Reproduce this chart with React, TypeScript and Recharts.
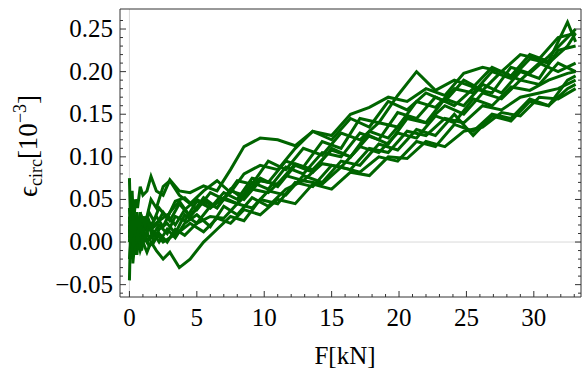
import { LineChart, Line, XAxis, YAxis, ReferenceLine } from 'recharts'

// force grids (kN) used by the strain series
const forceA = [0, 0.1, 0.2, 0.3, 0.45, 0.6, 0.8, 1.0, 1.3, 1.6, 2.0, 2.5, 3.0, 3.7, 4.5, 5.5, 6.5, 7.5, 8.5, 9.7, 11, 12.3, 13.6, 15, 16.4, 17.8, 19.2, 20.6, 22, 23.4, 24.8, 26.2, 27.6, 29, 30.4, 31.8, 33.1]
const forceB = [0, 0.15, 0.25, 0.4, 0.55, 0.7, 0.9, 1.15, 1.45, 1.8, 2.2, 2.8, 3.4, 4.1, 5.0, 6.0, 7.0, 8.0, 9.1, 10.3, 11.6, 12.9, 14.3, 15.7, 17.1, 18.5, 19.9, 21.3, 22.7, 24.1, 25.5, 26.9, 28.3, 29.7, 31.1, 32.5, 33.1]

// circumferential strain [10^-3]
const strainA1 = [0.075, 0.01, 0.06, 0.02, 0.05, 0.04, 0.065, 0.055, 0.06, 0.077, 0.06, 0.055, 0.073, 0.06, 0.058, 0.066, 0.06, 0.085, 0.112, 0.122, 0.12, 0.113, 0.13, 0.125, 0.15, 0.158, 0.17, 0.165, 0.18, 0.172, 0.198, 0.205, 0.2, 0.22, 0.215, 0.24, 0.245]
const strainA2 = [-0.045, 0.03, -0.02, 0.01, -0.015, 0.005, -0.01, 0.0, -0.012, 0.0, -0.01, -0.02, -0.012, -0.03, -0.02, 0.0, 0.015, 0.03, 0.025, 0.05, 0.045, 0.07, 0.065, 0.09, 0.085, 0.11, 0.105, 0.13, 0.125, 0.145, 0.14, 0.16, 0.155, 0.17, 0.175, 0.18, 0.19]
const strainA3 = [0.03, -0.01, 0.04, 0.0, 0.03, 0.01, 0.035, 0.02, 0.03, 0.05, 0.04, 0.065, 0.072, 0.055, 0.045, 0.06, 0.072, 0.058, 0.08, 0.09, 0.085, 0.11, 0.13, 0.12, 0.145, 0.135, 0.165, 0.155, 0.175, 0.165, 0.19, 0.178, 0.2, 0.19, 0.21, 0.2, 0.21]
const strainA4 = [0.005, 0.025, 0.0, 0.03, 0.01, 0.025, 0.005, 0.03, 0.015, 0.02, 0.03, 0.018, 0.035, 0.048, 0.03, 0.052, 0.04, 0.062, 0.05, 0.072, 0.068, 0.092, 0.085, 0.108, 0.1, 0.125, 0.115, 0.145, 0.14, 0.16, 0.15, 0.175, 0.168, 0.19, 0.185, 0.21, 0.2]
const strainA5 = [0.0, 0.015, -0.01, 0.02, 0.0, 0.01, -0.005, 0.01, 0.0, 0.005, 0.01, 0.0, 0.005, 0.012, 0.022, 0.012, 0.028, 0.022, 0.038, 0.032, 0.05, 0.045, 0.068, 0.062, 0.082, 0.078, 0.1, 0.098, 0.118, 0.112, 0.13, 0.135, 0.152, 0.148, 0.17, 0.168, 0.18]
const strainA6 = [0.04, 0.0, 0.03, -0.005, 0.025, 0.005, 0.02, 0.01, 0.025, 0.015, 0.02, 0.035, 0.025, 0.045, 0.03, 0.048, 0.04, 0.06, 0.055, 0.075, 0.065, 0.09, 0.082, 0.11, 0.1, 0.13, 0.122, 0.148, 0.14, 0.168, 0.16, 0.185, 0.175, 0.2, 0.192, 0.225, 0.23]
const strainB1 = [0.0, 0.02, -0.01, 0.025, 0.0, 0.02, 0.01, 0.03, 0.015, 0.02, 0.025, 0.032, 0.02, 0.038, 0.05, 0.04, 0.058, 0.05, 0.075, 0.07, 0.095, 0.088, 0.118, 0.11, 0.145, 0.14, 0.172, 0.2, 0.178, 0.19, 0.182, 0.205, 0.195, 0.22, 0.212, 0.258, 0.235]
const strainB2 = [0.01, 0.03, 0.0, 0.02, -0.005, 0.015, 0.0, 0.02, 0.005, 0.01, 0.0, 0.015, 0.005, 0.022, 0.032, 0.018, 0.042, 0.032, 0.052, 0.042, 0.062, 0.072, 0.068, 0.088, 0.082, 0.1, 0.095, 0.118, 0.112, 0.138, 0.13, 0.15, 0.145, 0.168, 0.16, 0.18, 0.185]
const strainB3 = [0.02, -0.005, 0.025, 0.005, 0.03, 0.0, 0.02, 0.0, 0.025, 0.01, 0.02, 0.01, 0.03, 0.025, 0.048, 0.04, 0.052, 0.045, 0.07, 0.062, 0.088, 0.08, 0.105, 0.1, 0.128, 0.12, 0.152, 0.145, 0.17, 0.16, 0.18, 0.175, 0.205, 0.198, 0.218, 0.24, 0.25]
const strainB4 = [-0.02, 0.01, -0.025, 0.0, -0.015, 0.005, -0.01, 0.01, -0.005, 0.0, 0.01, 0.0, 0.015, 0.008, 0.022, 0.03, 0.028, 0.045, 0.04, 0.06, 0.055, 0.078, 0.07, 0.095, 0.09, 0.115, 0.108, 0.132, 0.125, 0.15, 0.125, 0.148, 0.142, 0.165, 0.16, 0.19, 0.195]
const strainB5 = [0.015, 0.0, 0.02, -0.01, 0.015, 0.0, 0.015, 0.005, 0.02, 0.0, 0.015, 0.022, 0.01, 0.032, 0.022, 0.042, 0.05, 0.045, 0.062, 0.058, 0.078, 0.072, 0.092, 0.088, 0.112, 0.105, 0.128, 0.122, 0.148, 0.14, 0.168, 0.16, 0.182, 0.178, 0.19, 0.198, 0.2]
const strainB6 = [0.025, 0.005, 0.03, 0.01, 0.035, 0.015, 0.03, 0.02, 0.035, 0.025, 0.04, 0.028, 0.048, 0.052, 0.038, 0.058, 0.05, 0.072, 0.068, 0.095, 0.085, 0.11, 0.102, 0.128, 0.12, 0.14, 0.135, 0.165, 0.158, 0.18, 0.175, 0.2, 0.192, 0.215, 0.21, 0.23, 0.245]

const xMajor = [0, 5, 10, 15, 20, 25, 30]
const yMajor = [-0.05, 0, 0.05, 0.1, 0.15, 0.2, 0.25]

const seriesList = [
  { force: forceA, strain: strainA1 },
  { force: forceB, strain: strainB1 },
  { force: forceA, strain: strainA2 },
  { force: forceB, strain: strainB2 },
  { force: forceA, strain: strainA3 },
  { force: forceB, strain: strainB3 },
  { force: forceA, strain: strainA4 },
  { force: forceB, strain: strainB4 },
  { force: forceA, strain: strainA5 },
  { force: forceB, strain: strainB5 },
  { force: forceA, strain: strainA6 },
  { force: forceB, strain: strainB6 },
]

// minor ticks every 1 kN and every 0.01
const xTicks = Array.from({ length: 34 }, (_, i) => i)
const yTicks = Array.from({ length: 33 }, (_, i) => (i - 6) / 100)

const isXMajor = (v: number) => xMajor.includes(v)
const isYMajor = (v: number) => yMajor.some(m => Math.abs(m - v) < 1e-6)

const fmtY = (v: number) => {
  const s = Math.abs(v).toFixed(2)
  return v < -1e-9 ? '\u2212' + s : s
}

const FRAME = '#333'
const FONT = '"Liberation Serif", "Times New Roman", serif'

function BottomTick(props: any) {
  const { x, y, payload } = props
  const major = isXMajor(payload.value)
  return (
    <g>
      <line x1={x} y1={y} x2={x} y2={y - (major ? 6 : 3)} stroke={FRAME} strokeWidth={1} />
      {major && (
        <text x={x} y={y + 29} textAnchor="middle" fontSize={25} fontFamily={FONT} fill="#000">
          {payload.value}
        </text>
      )}
    </g>
  )
}

function TopTick(props: any) {
  const { x, y, payload } = props
  const major = isXMajor(payload.value)
  return <line x1={x} y1={y} x2={x} y2={y + (major ? 6 : 3)} stroke={FRAME} strokeWidth={1} />
}

function LeftTick(props: any) {
  const { x, y, payload } = props
  const major = isYMajor(payload.value)
  return (
    <g>
      <line x1={x} y1={y} x2={x + (major ? 6 : 3)} y2={y} stroke={FRAME} strokeWidth={1} />
      {major && (
        <text x={x - 7} y={y + 8} textAnchor="end" fontSize={25} fontFamily={FONT} fill="#000">
          {fmtY(payload.value)}
        </text>
      )}
    </g>
  )
}

function RightTick(props: any) {
  const { x, y, payload } = props
  const major = isYMajor(payload.value)
  return <line x1={x} y1={y} x2={x - (major ? 6 : 3)} y2={y} stroke={FRAME} strokeWidth={1} />
}

export default function App() {
  return (
    <div style={{ position: 'absolute', left: 0, top: 0, width: 583, height: 374, background: '#fff', fontFamily: FONT }}>
      <LineChart width={583} height={374} margin={{ top: 8, right: 1, bottom: 76, left: 119 }}>
        <XAxis
          xAxisId="bottom"
          dataKey="x"
          type="number"
          domain={[-0.7, 33.5]}
          ticks={xTicks}
          interval={0}
          allowDataOverflow
          height={1}
          tickSize={0}
          tickMargin={0}
          tickLine={false}
          axisLine={{ stroke: FRAME }}
          tick={<BottomTick />}
        />
        <XAxis
          xAxisId="top"
          orientation="top"
          type="number"
          domain={[-0.7, 33.5]}
          ticks={xTicks}
          interval={0}
          allowDataOverflow
          height={1}
          tickSize={0}
          tickMargin={0}
          tickLine={false}
          axisLine={{ stroke: FRAME }}
          tick={<TopTick />}
        />
        <YAxis
          yAxisId="left"
          type="number"
          domain={[-0.0645, 0.2735]}
          ticks={yTicks}
          interval={0}
          allowDataOverflow
          width={1}
          tickSize={0}
          tickMargin={0}
          tickLine={false}
          axisLine={{ stroke: FRAME }}
          tick={<LeftTick />}
        />
        <YAxis
          yAxisId="right"
          orientation="right"
          type="number"
          domain={[-0.0645, 0.2735]}
          ticks={yTicks}
          interval={0}
          allowDataOverflow
          width={1}
          tickSize={0}
          tickMargin={0}
          tickLine={false}
          axisLine={{ stroke: FRAME }}
          tick={<RightTick />}
        />
        <ReferenceLine xAxisId="bottom" yAxisId="left" x={0} stroke="#d9d9d9" strokeWidth={1} />
        <ReferenceLine xAxisId="bottom" yAxisId="left" y={0} stroke="#d9d9d9" strokeWidth={1} />
        {seriesList.map((s, i) => (
          <Line
            key={i}
            xAxisId="bottom"
            yAxisId="left"
            data={s.force.map((f, j) => ({ x: f, y: s.strain[j] }))}
            dataKey="y"
            type="linear"
            stroke="#006400"
            strokeWidth={3}
            dot={false}
            activeDot={false}
            isAnimationActive={false}
          />
        ))}
      </LineChart>
      <div
        style={{
          position: 'absolute',
          left: 28,
          top: 146,
          transform: 'translate(-50%, -50%) rotate(-90deg)',
          whiteSpace: 'nowrap',
          fontSize: 27,
          lineHeight: 1,
        }}
      >
        {'\u03F5'}
        <sub style={{ fontSize: 18, verticalAlign: '-0.3em' }}>circ</sub>
        [10<sup style={{ fontSize: 18, verticalAlign: '0.6em' }}>{'\u22123'}</sup>]
      </div>
      <div
        style={{
          position: 'absolute',
          left: 345,
          top: 355,
          transform: 'translate(-50%, -50%)',
          whiteSpace: 'nowrap',
          fontSize: 25,
          lineHeight: 1,
        }}
      >
        F[kN]
      </div>
    </div>
  )
}
